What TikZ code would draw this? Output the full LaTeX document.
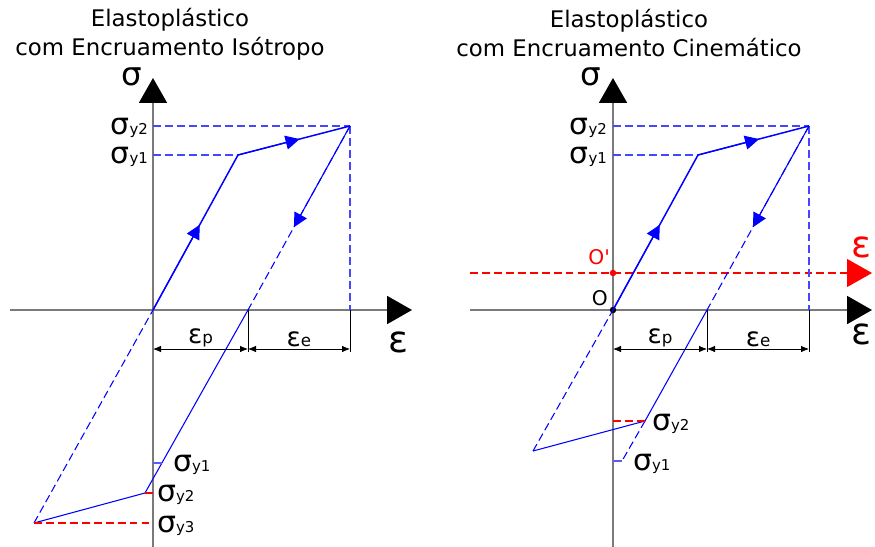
\documentclass[tikz,border=0pt]{standalone}
\usepackage{fontspec}
\setmainfont{DejaVu Sans}
\usetikzlibrary{arrows.meta,calc}
\definecolor{curve}{HTML}{0000FF}
\definecolor{guide}{HTML}{4646FF}
\definecolor{tickblue}{HTML}{5A5AFF}
\definecolor{axisgray}{HTML}{7A7A7A}
\definecolor{redline}{HTML}{FF0000}
\newcommand{\sgy}[1]{σ{\fontsize{8.5}{9}\selectfont y#1}}
\newcommand{\epsl}[1]{ε{\fontsize{9.5}{10}\selectfont #1}}
\tikzset{
  axis/.style={draw=axisgray,line width=1.1pt,-{Triangle[length=5mm,width=5.6mm,color=black]}},
  redaxis/.style={draw=redline,line width=0.6pt,dash pattern=on 4.5pt off 2.3pt,-{Triangle[length=5mm,width=5.6mm,color=redline]}},
  load/.style={draw=curve,line width=0.85pt},
  back/.style={draw=curve,line width=0.6pt},
  dashback/.style={back,dash pattern=on 4.5pt off 2.3pt},
  guide/.style={draw=guide,line width=0.6pt,dash pattern=on 4.5pt off 2.3pt},
  flow/.style={draw=curve,line width=0.6pt,-{Triangle[length=2.8mm,width=2.8mm]}},
  tick/.style={draw=tickblue,line width=1pt},
  redtick/.style={draw=redline,line width=0.6pt},
  reddash/.style={redtick,dash pattern=on 4.5pt off 2.3pt},
  ext/.style={draw=black,line width=0.45pt},
  dim/.style={draw=black,line width=0.45pt,{Latex[length=1.6mm,width=1.3mm]}-{Latex[length=1.6mm,width=1.3mm]}},
  title/.style={align=center,font=\fontsize{13}{16.4}\selectfont,inner sep=0pt},
  siglab/.style={font=\fontsize{17}{17}\selectfont,inner sep=1pt},
  axlab/.style={font=\fontsize{21}{21}\selectfont,inner sep=0pt,text height=1.05ex,text depth=0pt},
  sgaxlab/.style={axlab,font=\fontsize{18.5}{19}\selectfont},
  eplab/.style={font=\fontsize{15}{15}\selectfont,inner sep=1pt},
  olab/.style={font=\fontsize{11.5}{12}\selectfont,inner sep=1pt},
  dot/.style={circle,inner sep=1.3pt}
}
\begin{document}
\begin{tikzpicture}[x=0.02cm,y=-0.02cm]
  \useasboundingbox (0,0) rectangle (875,547);

  % --- isotropic hardening
  \node[title] (titL) at (170,34) {Elastoplástico\\com Encruamento Isótropo};
  \coordinate (oL) at (153,310);
  \coordinate (aL) at (238,155);
  \coordinate (bL) at (350,126);
  \coordinate (uL) at (248,310);
  \coordinate (cL) at (145,493);
  \coordinate (dL) at (34,523);
  \coordinate (t1L) at (162,463);
  \coordinate (vbL) at (153,547);
  \coordinate (vtL) at (153,78);
  \coordinate (hbL) at (10,310);
  \coordinate (htL) at (412,310);
  \coordinate (eL) at (0,352);
  \coordinate (mL) at (0,349);

  \draw[axis] (vbL) -- (vtL);
  \draw[axis] (hbL) -- (htL);
  \node[sgaxlab,anchor=base] (sigL) at (132,86) {σ};
  \node[axlab,anchor=base] (epsL) at (398,352) {ε};

  \draw[guide] (oL |- bL) -- (bL);
  \draw[guide] (oL |- aL) -- (aL);
  \draw[guide] (bL) -- (bL |- oL);
  \node[siglab,anchor=east] (s2L) at (150,128) {\sgy2};
  \node[siglab,anchor=east] (s1L) at (150,157) {\sgy1};

  \draw[load] (oL) -- (aL) -- (bL);
  \draw[flow] (oL) -- ($(oL)!.55!(aL)$);
  \draw[flow] (aL) -- ($(aL)!.55!(bL)$);
  \draw[dashback] (bL) -- (uL);
  \draw[flow] (bL) -- ($(bL)!.55!(uL)$);
  \draw[back] (uL) -- (cL) -- (dL);
  \draw[dashback] (dL) -- (oL);

  \draw[tick] (oL |- t1L) -- (t1L);
  \draw[redtick] (cL) -- (oL |- cL);
  \draw[reddash] (dL) -- (oL |- dL);
  \node[siglab,anchor=west] (n1L) at (171,465) {\sgy1};
  \node[siglab,anchor=west] (n2L) at (155,495) {\sgy2};
  \node[siglab,anchor=west] (n3L) at (155,526) {\sgy3};

  \draw[ext] (uL) -- (uL |- eL);
  \draw[ext] (bL |- oL) -- (bL |- eL);
  \draw[dim] (oL |- mL) -- node[eplab,above] (epL) {\epsl{p}} (uL |- mL);
  \draw[dim] (uL |- mL) -- node[eplab,above] (eeL) {\epsl{e}} (bL |- mL);

  % --- kinematic hardening
  \node[title] (titR) at (629,33) {Elastoplástico\\com Encruamento Cinemático};
  \coordinate (oR) at (613,310);
  \coordinate (aR) at (698,155);
  \coordinate (bR) at (809,126);
  \coordinate (uR) at (707,310);
  \coordinate (cR) at (645,421);
  \coordinate (dR) at (533,451);
  \coordinate (t1R) at (622,461);
  \coordinate (pR) at (613,273);
  \coordinate (vbR) at (613,547);
  \coordinate (vtR) at (613,78);
  \coordinate (hbR) at (470,310);
  \coordinate (htR) at (872,310);
  \coordinate (rbR) at (470,273);
  \coordinate (rtR) at (872,273);
  \coordinate (eR) at (0,352);
  \coordinate (mR) at (0,349);

  \draw[axis] (vbR) -- (vtR);
  \draw[redaxis] (rbR) -- (rtR);
  \draw[axis] (hbR) -- (htR);
  \node[sgaxlab,anchor=base] (sigR) at (591,86) {σ};
  \node[axlab,anchor=base] (epsR) at (861,344) {ε};
  \node[axlab,anchor=base,text=redline] (epsP) at (861,257) {ε};
  \node[dot,fill=redline] (opR) at (pR) {};
  \node[dot,fill=black] (ooR) at (oR) {};
  \node[olab,text=redline,anchor=east] (lopR) at (612,257) {O\textquotesingle};
  \node[olab,anchor=east] (looR) at (610,298) {O};

  \draw[guide] (oR |- bR) -- (bR);
  \draw[guide] (oR |- aR) -- (aR);
  \draw[guide] (bR) -- (bR |- oR);
  \node[siglab,anchor=east] (s2R) at (609,128) {\sgy2};
  \node[siglab,anchor=east] (s1R) at (609,157) {\sgy1};

  \draw[load] (oR) -- (aR) -- (bR);
  \draw[flow] (oR) -- ($(oR)!.55!(aR)$);
  \draw[flow] (aR) -- ($(aR)!.55!(bR)$);
  \draw[dashback] (bR) -- (uR);
  \draw[flow] (bR) -- ($(bR)!.55!(uR)$);
  \draw[back] (uR) -- (cR) -- (dR);
  \draw[dashback] (dR) -- (oR);
  \draw[dashback] (cR) -- (t1R);

  \draw[tick] (oR |- t1R) -- (t1R);
  \draw[reddash] (oR |- cR) -- (cR);
  \node[siglab,anchor=west] (n2R) at (650,424) {\sgy2};
  \node[siglab,anchor=west] (n1R) at (631,464) {\sgy1};

  \draw[ext] (uR) -- (uR |- eR);
  \draw[ext] (bR |- oR) -- (bR |- eR);
  \draw[dim] (oR |- mR) -- node[eplab,above] (epR) {\epsl{p}} (uR |- mR);
  \draw[dim] (uR |- mR) -- node[eplab,above] (eeR) {\epsl{e}} (bR |- mR);
\end{tikzpicture}
\end{document}
